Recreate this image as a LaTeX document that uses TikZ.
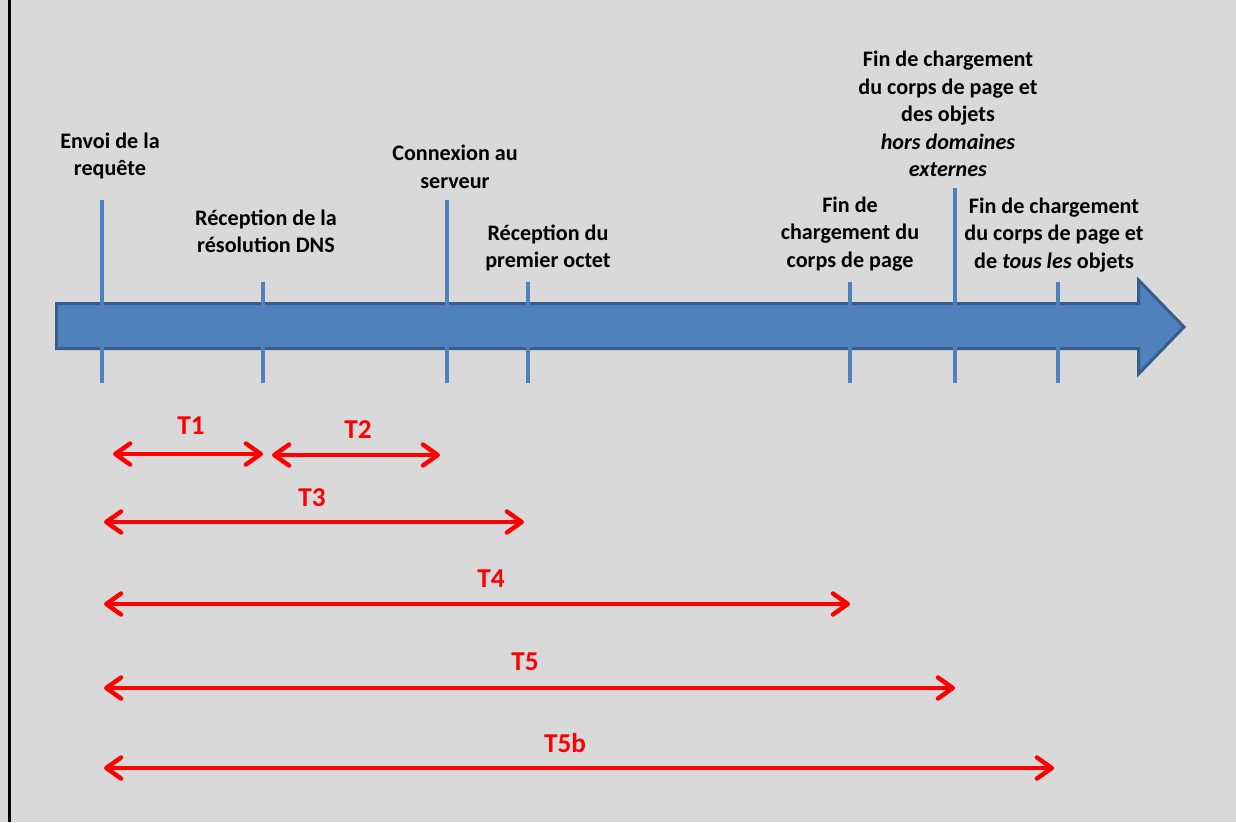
\documentclass[tikz,border=0pt]{standalone}
\usepackage{fontspec}
\setmainfont{Carlito}
\usepackage{xcolor}
\usetikzlibrary{arrows.meta}
\usetikzlibrary{positioning}

\definecolor{fond}{HTML}{D9D9D9}
\definecolor{bleu}{HTML}{4F81BD}
\definecolor{bleufonce}{HTML}{385D8A}
\definecolor{rouge}{HTML}{FF0000}

\tikzset{
  tick/.style={bleu, line width=2pt},
  lbl/.style={align=center, inner sep=0pt, font=\fontsize{12.6}{15.6}\selectfont\bfseries},
  tlbl/.style={rouge, inner sep=0pt, font=\fontsize{15.5}{18}\selectfont\bfseries},
  duree/.style={rouge, line width=2.5pt, {Straight Barb[length=8.5pt,width=12pt,round]}-{Straight Barb[length=8.5pt,width=12pt,round]}}
}

\begin{document}
\begin{tikzpicture}[x=0.02cm, y=-0.02cm]
    \fill[fond] (0,0) rectangle (1236,822);
    \useasboundingbox (0,0) rectangle (1236,822);
    \draw[black, line width=1.7pt] (9.5,0)--(9.5,822);

    \filldraw[fill=bleu, draw=bleufonce, line width=1.7pt, line join=miter]
        (56.5,303.5)--(1138.5,303.5)--(1138.5,280)--(1184,327)--(1138.5,374)--(1138.5,348.5)--(56.5,348.5)--cycle;

    \foreach \nm/\x/\top in {envoi/102/200, dns/263/282, cnx/447/200, octet/528/282, corps/850/282, horsdom/955/188, tous/1058/282} {
        \coordinate (\nm-h) at (\x,\top);
        \coordinate (\nm-b) at (\x,383);
        \draw[tick] (\nm-h)--(\nm-b);
    }

    \node[lbl] (l-envoi) at (110,156) {Envoi de la\\requête};
    \node[lbl] (l-dns) at (266,231) {Réception de la\\résolution DNS};
    \node[lbl] (l-cnx) at (455,167) {Connexion au\\serveur};
    \node[lbl] (l-octet) at (548,248) {Réception du\\premier octet};
    \node[lbl] (l-corps) at (850,234) {Fin de\\chargement du\\corps de page};
    \node[lbl] (l-horsdom) at (948,114) {Fin de chargement\\du corps de page et\\des objets\\\textit{hors domaines}\\\textit{externes}};
    \node[lbl] (l-tous) at (1054,235) {Fin de chargement\\du corps de page et\\de \textit{tous les} objets};

    \foreach \nm/\xa/\xb/\y/\lx/\ly in {T1/113/263/454/191/426, T2/272/440/455/358/430, T3/104/524/522/312/498, T4/104/850/604/491/579, T5/104/955/688/525/662, T5b/104/1054/768/565/743} {
        \coordinate (\nm-g) at (\xa,\y);
        \coordinate (\nm-d) at (\xb,\y);
        \draw[duree] (\nm-g)--(\nm-d);
        \node[tlbl] (\nm) at (\lx,\ly) {\nm};
    }
\end{tikzpicture}
\end{document}
